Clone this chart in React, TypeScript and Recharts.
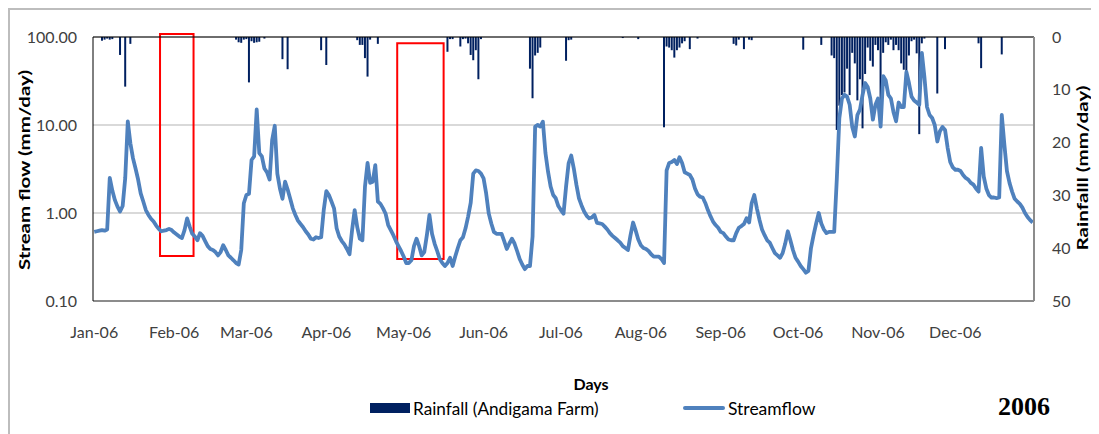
import React from 'react';
import {
  ComposedChart,
  Bar,
  Line,
  XAxis,
  YAxis,
  CartesianGrid,
  ReferenceLine,
  ReferenceArea,
} from 'recharts';

// Month tick positions (day index of the 1st of each month) and their labels
const monthStarts = [0, 31, 59, 90, 120, 151, 181, 212, 243, 273, 304, 334];
const monthLabels = [
  'Jan-06', 'Feb-06', 'Mar-06', 'Apr-06', 'May-06', 'Jun-06',
  'Jul-06', 'Aug-06', 'Sep-06', 'Oct-06', 'Nov-06', 'Dec-06',
];

// Daily streamflow (mm/day), 1 Jan – 31 Dec 2006
const streamflow = [
  0.61, 0.62, 0.63, 0.64, 0.63, 0.65, 2.5, 1.8, 1.4, 1.18,
  1.04, 1.2, 2.5, 11.0, 6.2, 4.2, 3.2, 2.4, 1.67, 1.35,
  1.08, 0.95, 0.86, 0.8, 0.72, 0.66, 0.62, 0.63, 0.64, 0.66,
  0.64, 0.6, 0.57, 0.54, 0.52, 0.64, 0.87, 0.7, 0.58, 0.54,
  0.49, 0.59, 0.55, 0.48, 0.42, 0.39, 0.38, 0.36, 0.33, 0.36,
  0.43, 0.38, 0.33, 0.31, 0.29, 0.27, 0.26, 0.38, 1.29, 1.6,
  1.65, 4.0, 4.4, 15.0, 4.8, 4.4, 3.2, 2.9, 2.4, 6.8,
  9.8, 2.8, 1.9, 1.45, 2.27, 1.85, 1.45, 1.13, 0.95, 0.82,
  0.75, 0.69, 0.62, 0.57, 0.51, 0.5, 0.53, 0.52, 0.53, 1.08,
  1.77, 1.6, 1.35, 1.13, 0.67, 0.54, 0.48, 0.44, 0.39, 0.34,
  0.64, 1.08, 0.69, 0.51, 0.49, 2.0, 3.7, 2.2, 2.27, 3.5,
  1.35, 1.27, 1.13, 0.98, 0.73, 0.64, 0.56, 0.48, 0.42, 0.37,
  0.32, 0.27, 0.27, 0.29, 0.42, 0.51, 0.42, 0.33, 0.36, 0.56,
  0.95, 0.58, 0.45, 0.37, 0.3, 0.27, 0.25, 0.27, 0.31, 0.25,
  0.32, 0.4, 0.49, 0.53, 0.67, 0.91, 1.3, 2.8, 3.05, 3.0,
  2.8, 2.47, 1.67, 0.99, 0.76, 0.61, 0.58, 0.58, 0.58, 0.48,
  0.39, 0.45, 0.51, 0.45, 0.37, 0.3, 0.26, 0.23, 0.25, 0.25,
  0.54, 9.6, 10.0, 9.6, 10.9, 4.8, 2.95, 2.0, 1.6, 1.47,
  1.2, 1.08, 0.98, 2.0, 3.7, 4.5, 3.2, 2.1, 1.47, 1.22,
  1.04, 0.93, 0.87, 0.89, 0.95, 0.77, 0.76, 0.75, 0.7, 0.65,
  0.59, 0.55, 0.52, 0.49, 0.46, 0.42, 0.4, 0.38, 0.56, 0.78,
  0.63, 0.5, 0.43, 0.4, 0.39, 0.37, 0.34, 0.32, 0.32, 0.32,
  0.3, 0.27, 3.05, 3.7, 3.8, 4.0, 3.6, 4.3, 3.7, 2.9,
  2.8, 2.7, 2.4, 1.9, 1.63, 1.53, 1.5, 1.3, 1.08, 0.92,
  0.8, 0.73, 0.68, 0.61, 0.59, 0.54, 0.5, 0.49, 0.49, 0.59,
  0.68, 0.71, 0.75, 0.87, 0.78, 1.3, 1.6, 1.13, 0.84, 0.65,
  0.56, 0.49, 0.46, 0.4, 0.35, 0.33, 0.31, 0.35, 0.45, 0.62,
  0.49, 0.38, 0.31, 0.28, 0.25, 0.23, 0.21, 0.22, 0.4, 0.56,
  0.76, 1.0, 0.76, 0.65, 0.59, 0.61, 0.61, 0.61, 2.4, 12,
  20, 22, 21, 17, 9.5, 7.4, 13, 15, 22, 30,
  27, 20, 11.5, 17, 20, 9.6, 36, 32, 22, 20,
  14, 11, 18, 16, 16, 40, 30, 21, 19, 18,
  17, 66, 35, 16, 13, 12, 10, 6.5, 8.5, 9.5,
  8.8, 5.5, 3.8, 3.3, 3.1, 3.1, 3.0, 2.7, 2.5, 2.4,
  2.2, 2.1, 1.9, 1.75, 5.5, 2.6, 1.9, 1.6, 1.5, 1.5,
  1.48, 1.5, 13, 6, 3.0, 2.2, 1.75, 1.45, 1.35, 1.27,
  1.15, 1.0, 0.9, 0.83, 0.78,
];

// Rain days (day index) and daily rainfall at Andigama Farm (mm/day)
const rainDays = [
  3, 4, 5, 6, 7, 10, 12, 14,
  55, 56, 57, 58, 59, 60, 61, 62, 63, 64, 66,
  73, 75, 88, 90,
  102, 103, 104, 105, 106, 107, 110,
  137, 138, 139, 142, 143, 144, 145, 146, 147, 148, 149, 150,
  169, 170, 171, 172, 173,
  183, 184, 185, 205, 211,
  221, 222, 223, 224, 225, 226, 227, 228, 229, 231, 234,
  248, 249, 250, 252, 254, 255,
  275, 282,
  286, 287, 288, 289, 290, 291, 292, 293, 294, 295, 296, 297, 298, 299,
  300, 301, 302, 303, 304, 305, 306, 307, 308, 309, 310, 311, 312, 313,
  314, 315, 316, 317, 318, 319, 320, 321, 322,
  327, 330, 343, 344, 352,
];
const rainMm = [
  0.7, 0.5, 0.3, 0.5, 0.4, 3.4, 9.4, 1.3,
  0.5, 1.0, 1.1, 0.5, 0.4, 8.6, 0.8, 1.1, 1.0, 0.9, 0.3,
  4.2, 6.1, 2.5, 5.3,
  0.6, 1.5, 1.5, 4.0, 7.5, 0.5, 1.3,
  2.8, 0.4, 0.4, 1.8, 0.4, 0.3, 1.2, 3.4, 4.4, 2.5, 8.0, 0.4,
  6.0, 11.6, 3.5, 3.0, 2.0,
  4.5, 0.6, 0.5, 0.2, 0.4,
  17.1, 1.8, 2.0, 2.5, 3.9, 2.5, 2.0, 1.2, 0.8, 2.3, 0.3,
  1.3, 1.6, 0.5, 2.3, 0.5, 0.6,
  2.4, 1.5,
  3.5, 4.0, 17.6, 13, 11, 10.5, 6, 11, 3, 5, 12, 8, 17.3, 7,
  2, 4.5, 5.6, 1.5, 2.5, 15, 3, 1, 1.5, 0.5, 2.5, 1.5, 2.5, 5,
  6.2, 8.8, 3.5, 0.8, 0.5, 3.1, 18.4, 1.2, 0.3,
  10.7, 2.3, 1.2, 5.9, 3.3,
];

// Axis ticks
const flowTicks = [0.1, 1, 10, 100];
const rainTicks = [0, 10, 20, 30, 40, 50];

// Highlighted low-flow periods (day range, streamflow range)
const highlightBoxes = [
  { from: 26, to: 38, top: 108, bottom: 0.324 },
  { from: 118, to: 135, top: 84.8, bottom: 0.3 },
];

const rainByDay = new Map<number, number>(rainDays.map((d, k) => [d, rainMm[k]]));
const table = streamflow.map((flow, day) => ({
  day,
  flow,
  rain: rainByDay.has(day) ? rainByDay.get(day) : null,
}));

const FONT = 'Lato, "Open Sans", sans-serif';
const TICK_STYLE = { fill: '#404040', fontSize: 16, fontFamily: FONT };
const TITLE_SIZE = 16;

// Rotated axis title, stretched along its length to the given span
const VerticalTitle = ({ cx, cy, span, text }: { cx: number; cy: number; span: number; text: string }) => (
  <text
    x={cx}
    y={cy}
    transform={`rotate(-90 ${cx} ${cy})`}
    textAnchor="middle"
    dominantBaseline="central"
    fontFamily={FONT}
    fontWeight={700}
    fontSize={TITLE_SIZE}
    textLength={span}
    lengthAdjust="spacingAndGlyphs"
    fill="#000"
  >
    {text}
  </text>
);

const LeftTitle = (props: any) => {
  const vb = props.viewBox || { x: 0, y: 0, height: 0 };
  return <VerticalTitle cx={vb.x + 15} cy={vb.y + vb.height / 2 + 1} span={200} text="Stream flow (mm/day)" />;
};

const RightTitle = (props: any) => {
  const vb = props.viewBox || { x: 0, y: 0, height: 0 };
  return <VerticalTitle cx={1073} cy={vb.y + vb.height / 2 - 1} span={165} text="Rainfalll (mm/day)" />;
};

export default function App() {
  return (
    <div style={{ position: 'relative', width: 1091, height: 426, background: '#fff' }}>
      {/* page frame */}
      <div
        style={{
          position: 'absolute',
          left: -8,
          top: -8,
          width: 1099,
          height: 2,
          background: '#c8c8c8',
        }}
      />
      <div
        style={{
          position: 'absolute',
          left: 0,
          top: 0,
          width: 1091,
          height: 430,
          borderTop: '2px solid #bdbdbd',
          borderLeft: '2px solid #bdbdbd',
          boxSizing: 'border-box',
        }}
      />
      <div style={{ position: 'absolute', left: 0, top: 0 }}>
        <ComposedChart
          width={1091}
          height={426}
          data={table}
          margin={{ top: 29, right: 0, bottom: 73, left: 0 }}
          barCategoryGap="10%"
        >
          <CartesianGrid
            yAxisId="flow"
            vertical={false}
            stroke="#d9d9d9"
            strokeWidth={2}
          />
          <XAxis
            dataKey="day"
            ticks={monthStarts}
            interval={0}
            tickFormatter={(d: number) => monthLabels[monthStarts.indexOf(d)] ?? ''}
            tickLine={false}
            tickSize={0}
            tickMargin={26}
            height={60}
            axisLine={{ stroke: '#8c8c8c', strokeWidth: 2 }}
            tick={TICK_STYLE}
          />
          <YAxis
            yAxisId="flow"
            scale="log"
            domain={[0.1, 100]}
            ticks={flowTicks}
            allowDataOverflow
            width={85}
            tickFormatter={(v: number) => v.toFixed(2)}
            tickLine={false}
            tickSize={0}
            tickMargin={16}
            axisLine={{ stroke: '#000', strokeWidth: 1 }}
            tick={TICK_STYLE}
            label={{ content: LeftTitle }}
          />
          <YAxis
            yAxisId="rain"
            orientation="right"
            reversed
            domain={[0, 50]}
            ticks={rainTicks}
            width={65}
            tickLine={false}
            tickSize={0}
            tickMargin={18}
            axisLine={{ stroke: '#8c8c8c', strokeWidth: 2 }}
            tick={TICK_STYLE}
            label={{ content: RightTitle }}
          />
          <Bar
            yAxisId="rain"
            dataKey="rain"
            name="Rainfall (Andigama Farm)"
            fill="#002060"
            isAnimationActive={false}
          />
          <Line
            yAxisId="flow"
            dataKey="flow"
            name="Streamflow"
            type="linear"
            stroke="#4f81bd"
            strokeWidth={3.8}
            strokeLinejoin="round"
            dot={false}
            activeDot={false}
            isAnimationActive={false}
          />
          <ReferenceLine yAxisId="flow" y={100} stroke="#000" strokeWidth={1} />
          {highlightBoxes.map((b, k) => (
            <ReferenceArea
              key={k}
              yAxisId="flow"
              x1={b.from}
              x2={b.to}
              y1={b.bottom}
              y2={b.top}
              fill="none"
              fillOpacity={0}
              stroke="#ff0000"
              strokeWidth={2}
              ifOverflow="visible"
            />
          ))}
        </ComposedChart>
      </div>

      {/* axis title and legend */}
      <div
        style={{
          position: 'absolute',
          left: 583,
          top: 375,
          transform: 'translate(-50%, -50%)',
          fontFamily: FONT,
          fontWeight: 700,
          fontSize: 16,
          color: '#000',
          whiteSpace: 'nowrap',
        }}
      >
        Days
      </div>
      <div
        style={{
          position: 'absolute',
          left: 362,
          top: 390,
          height: 20,
          display: 'flex',
          alignItems: 'center',
          fontFamily: FONT,
          fontSize: 17.2,
          color: '#000',
          whiteSpace: 'nowrap',
        }}
      >
        <span style={{ display: 'inline-block', width: 40, height: 10, background: '#002060', marginRight: 3 }} />
        <span>Rainfall (Andigama Farm)</span>
      </div>
      <div
        style={{
          position: 'absolute',
          left: 675,
          top: 390,
          height: 20,
          display: 'flex',
          alignItems: 'center',
          fontFamily: FONT,
          fontSize: 17.5,
          color: '#000',
          whiteSpace: 'nowrap',
        }}
      >
        <span style={{ display: 'inline-block', width: 42, height: 4, borderRadius: 2, background: '#4f81bd', marginRight: 3 }} />
        <span>Streamflow</span>
      </div>
      <div
        style={{
          position: 'absolute',
          left: 990,
          top: 384,
          fontFamily: '"Liberation Serif", "Times New Roman", serif',
          fontWeight: 700,
          fontSize: 26,
          color: '#000',
          whiteSpace: 'nowrap',
        }}
      >
        2006
      </div>
    </div>
  );
}
